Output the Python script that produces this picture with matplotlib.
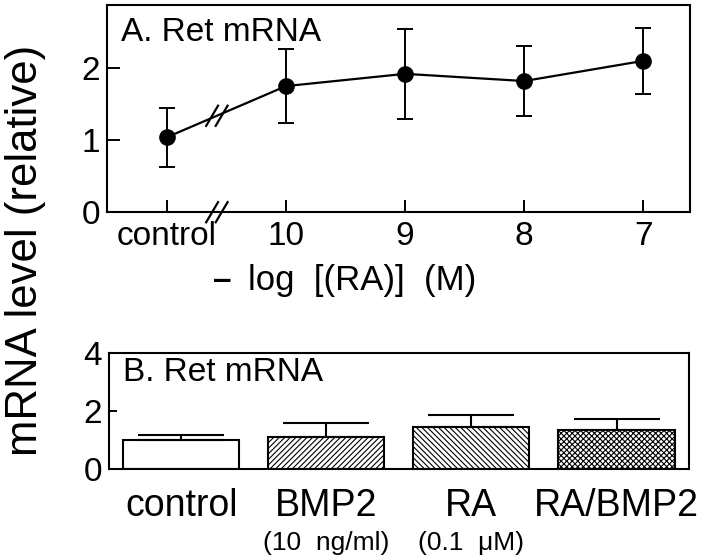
import numpy as np
import matplotlib
matplotlib.use('Agg')
import matplotlib.pyplot as plt

plt.rcParams['font.family'] = ['Liberation Sans', 'DejaVu Sans']
plt.rcParams['hatch.linewidth'] = 0.8

# Panel A: dose response
dose_labels = ['control', '10', '9', '8', '7']
dose_mean = [1.04, 1.75, 1.92, 1.82, 2.10]
dose_err = [0.41, 0.51, 0.62, 0.48, 0.46]

# Panel B: treatments
treat_labels = ['control', 'BMP2', 'RA', 'RA/BMP2']
treat_sub = ['', '(10  ng/ml)', '(0.1  \u03bcM)', '']
treat_mean = [1.00, 1.10, 1.45, 1.34]
treat_err = [0.17, 0.48, 0.41, 0.38]
treat_hatch = ['', '//////', '\\\\\\\\\\\\', 'xxxxxx']

fig = plt.figure(figsize=(7.2, 5.57), dpi=100)
axA = fig.add_axes([0.149, 0.619, 0.809, 0.372])
axB = fig.add_axes([0.151, 0.158, 0.806, 0.208])

x = np.arange(len(dose_labels))
axA.errorbar(x, dose_mean, yerr=dose_err, color='black', lw=1.6,
             marker='o', markersize=11, capsize=5.5, elinewidth=1.4,
             capthick=1.4)
axA.set_xlim(-0.5, 4.39)
axA.set_ylim(0, 2.875)
axA.set_yticks([0, 1, 2])
axA.set_xticks(x)
axA.set_xticklabels(dose_labels, fontsize=24)
axA.tick_params(axis='y', labelsize=24)
axA.tick_params(direction='in', length=9, width=1.4, pad=5)
axA.tick_params(axis='x', pad=6)
for s in axA.spines.values():
    s.set_linewidth(1.5)
axA.text(0.024, 0.94, 'A. Ret mRNA', transform=axA.transAxes,
         fontsize=24, va='top', ha='left')

# axis break marks
xb = (x[0] + x[1]) / 2 - 0.08
yb = np.interp(xb, x[:2], dose_mean[:2])
for dx in (-0.04, 0.04):
    axA.plot([xb + dx - 0.05, xb + dx + 0.05], [yb - 0.14, yb + 0.14],
             color='black', lw=1.6, clip_on=False)
    axA.plot([xb + dx - 0.05, xb + dx + 0.05], [-0.14, 0.14],
             color='black', lw=1.6, clip_on=False)
axA.text(0.214, -0.328, '\u2013', transform=axA.transAxes, fontsize=24,
         fontweight='bold', ha='right', va='center')
axA.text(0.242, -0.328, 'log  [(RA)]  (M)', transform=axA.transAxes,
         fontsize=25, ha='left', va='center')

# Panel B bars
xt = np.arange(len(treat_labels))
for i in range(len(xt)):
    axB.bar(xt[i], treat_mean[i], width=0.8, color='white',
            edgecolor='black', linewidth=1.5, hatch=treat_hatch[i])
axB.errorbar(xt, treat_mean, yerr=[np.zeros(len(xt)), treat_err],
             fmt='none', ecolor='black', elinewidth=1.5, capsize=31,
             capthick=1.5)
axB.set_xlim(-0.5, 3.5)
axB.set_ylim(0, 4)
axB.set_yticks([0, 2, 4])
axB.set_xticks(xt)
axB.set_xticklabels(treat_labels, fontsize=27)
axB.tick_params(axis='y', labelsize=24, direction='in', length=6,
                width=1.4, pad=5)
axB.tick_params(axis='x', length=0, pad=14)
for s in axB.spines.values():
    s.set_linewidth(1.5)
for i, sub in enumerate(treat_sub):
    if sub:
        axB.annotate(sub, xy=(xt[i], 0), xytext=(0, -53),
                     textcoords='offset points', ha='center', va='center',
                     fontsize=19)
axB.text(0.025, 0.97, 'B. Ret mRNA', transform=axB.transAxes,
         fontsize=24, va='top', ha='left')

fig.text(0.035, 0.551, 'mRNA level (relative)', rotation=90,
         fontsize=31.5, ha='center', va='center')

fig.savefig('out.png', dpi=100)
